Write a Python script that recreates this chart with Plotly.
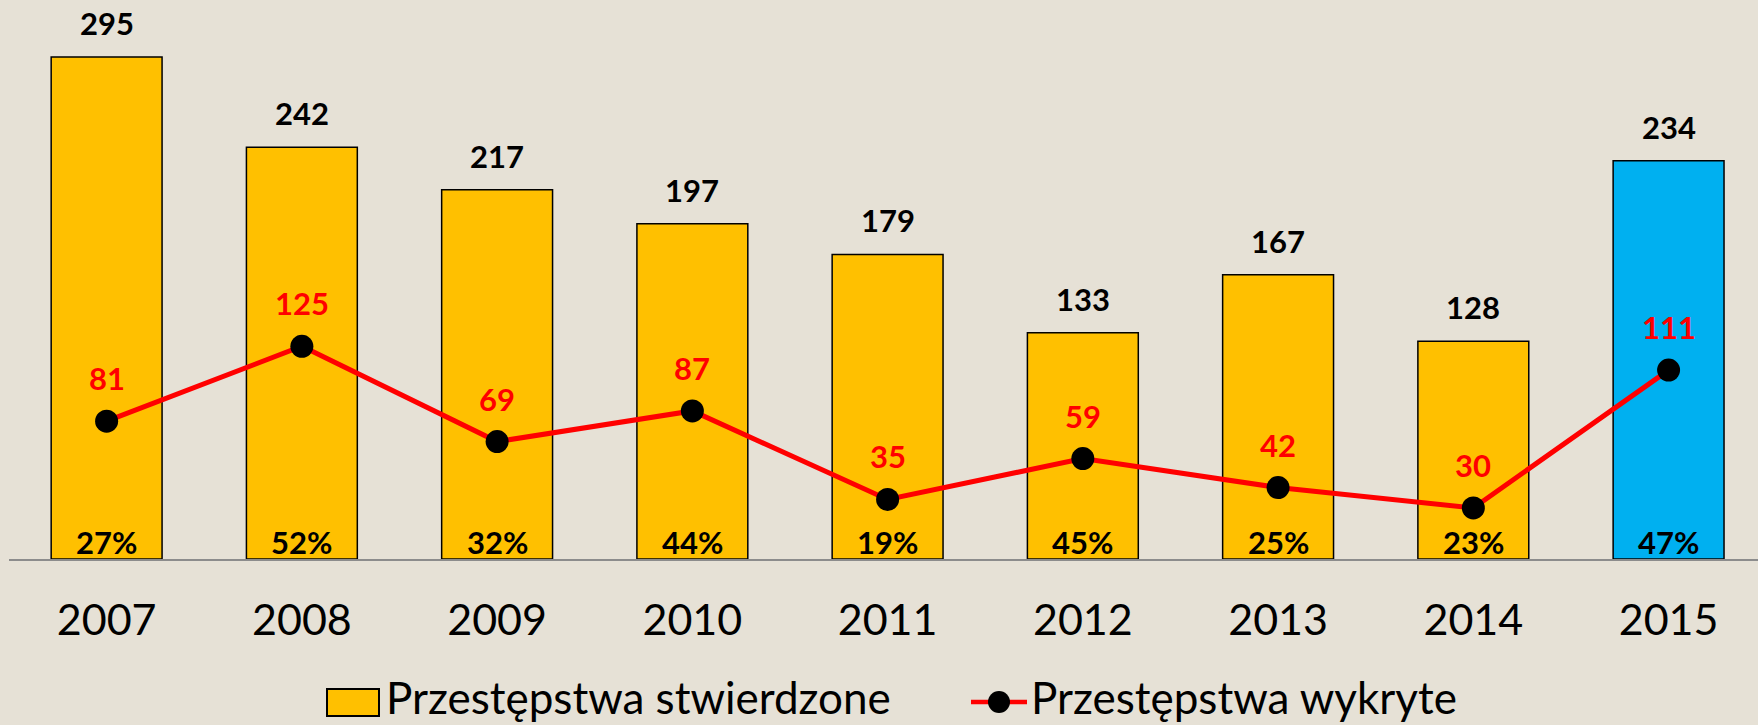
import plotly.graph_objects as go

years = ["2007", "2008", "2009", "2010", "2011", "2012", "2013", "2014", "2015"]
stwierdzone = [295, 242, 217, 197, 179, 133, 167, 128, 234]
wykryte = [81, 125, 69, 87, 35, 59, 42, 30, 111]
wykrywalnosc = ["27%", "52%", "32%", "44%", "19%", "45%", "25%", "23%", "47%"]

name_bar = "Przestępstwa stwierdzone"
name_line = "Przestępstwa wykryte"

W, H = 1758, 725
ML, MR, MT, MB = 9, 0, 0, 166
PW, PH = W - ML - MR, H - MT - MB

YELLOW = "#FFC000"
BLUE = "#00B0F0"
RED = "#FF0000"
BG = "#E6E1D6"
FONT = "Lato"

bar_colors = [YELLOW] * (len(years) - 1) + [BLUE]

fig = go.Figure()
fig.add_trace(go.Bar(
    x=years, y=stwierdzone, name=name_bar, width=0.568,
    marker=dict(color=bar_colors, line=dict(color="black", width=1.5)),
    showlegend=False, hoverinfo="x+y",
))
fig.add_trace(go.Scatter(
    x=years, y=wykryte, name=name_line, mode="lines+markers",
    line=dict(color=RED, width=5),
    marker=dict(color="black", size=23),
    showlegend=False,
))

ann = []
for i, v in enumerate(stwierdzone):
    ann.append(dict(x=i, y=v, xref="x", yref="y", text=str(v), showarrow=False,
                    yanchor="middle", yshift=34,
                    font=dict(family=FONT, size=31, color="black", weight="bold")))
for i, v in enumerate(wykryte):
    ann.append(dict(x=i, y=v, xref="x", yref="y", text=str(v), showarrow=False,
                    yanchor="middle", yshift=43,
                    font=dict(family=FONT, size=31, color=RED, weight="bold")))
for i, p in enumerate(wykrywalnosc):
    ann.append(dict(x=i, y=0, xref="x", yref="y", text=p, showarrow=False,
                    yanchor="middle", yshift=17,
                    font=dict(family=FONT, size=31, color="black", weight="bold")))


def px_x(px):
    return (px - ML) / PW


def px_y(py):
    return (H - MB - py) / PH


# custom legend
LEG_Y = 702
shapes = [
    dict(type="rect", xref="paper", yref="paper",
         x0=px_x(327), x1=px_x(379), y0=px_y(716), y1=px_y(689),
         fillcolor=YELLOW, line=dict(color="black", width=2)),
    dict(type="line", xref="paper", yref="paper",
         x0=px_x(971), x1=px_x(1027), y0=px_y(LEG_Y), y1=px_y(LEG_Y),
         line=dict(color=RED, width=4.5)),
    dict(type="circle", xref="paper", yref="paper",
         x0=px_x(988), x1=px_x(1010), y0=px_y(LEG_Y + 11), y1=px_y(LEG_Y - 11),
         fillcolor="black", line=dict(color="black", width=0)),
]
ann.append(dict(xref="paper", yref="paper", x=px_x(385), y=px_y(724), text=name_bar,
                showarrow=False, xanchor="left", yanchor="bottom", borderpad=0,
                font=dict(family=FONT, size=44, color="black")))
ann.append(dict(xref="paper", yref="paper", x=px_x(1030), y=px_y(724), text=name_line,
                showarrow=False, xanchor="left", yanchor="bottom", borderpad=0,
                font=dict(family=FONT, size=44, color="black")))

fig.update_layout(
    width=W, height=H,
    margin=dict(l=ML, r=MR, t=MT, b=MB, pad=0),
    paper_bgcolor=BG, plot_bgcolor=BG,
    annotations=ann, shapes=shapes,
    font=dict(family=FONT),
    showlegend=False,
)
fig.update_xaxes(
    type="category", range=[-0.5, 8.458],
    showline=True, linecolor="#8C8C8C", linewidth=2,
    ticks="outside", ticklen=22, tickcolor="rgba(0,0,0,0)",
    tickfont=dict(family=FONT, size=43, color="black"),
    showgrid=False, zeroline=False,
)
fig.update_yaxes(
    range=[0, 328.5], visible=False, showgrid=False, zeroline=False,
)

fig.write_html(
    "out.html",
    config={"displayModeBar": False},
    post_script="document.body.style.margin='0';document.body.style.background='%s';" % BG,
)
